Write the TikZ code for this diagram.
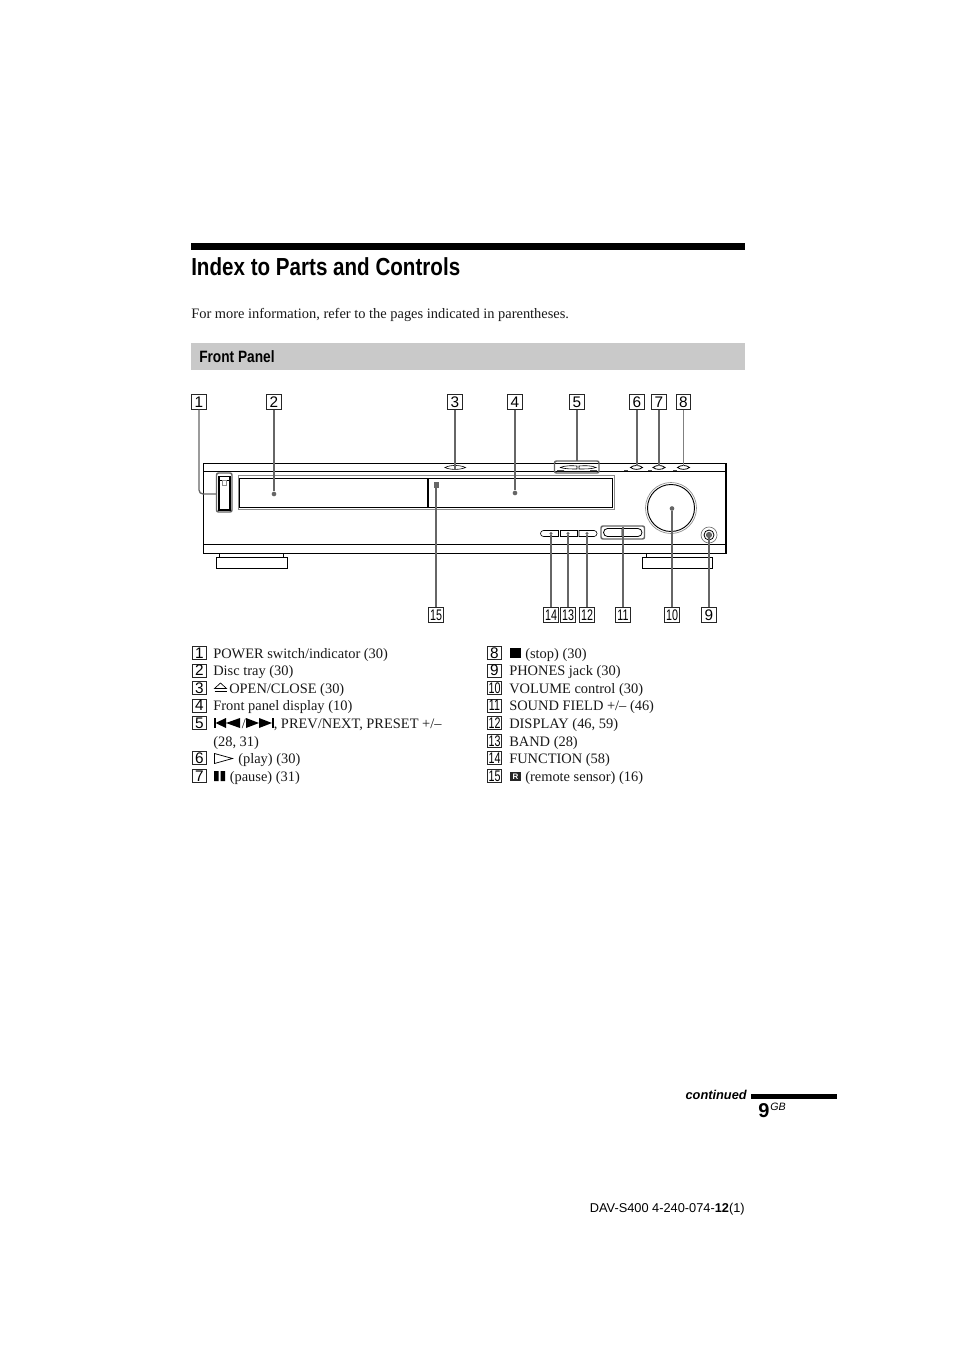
\documentclass[tikz,border=0pt]{standalone}
\usepackage{fontspec}
\setmainfont{Liberation Serif}
\setsansfont{Liberation Sans}
\newfontfamily\headfont[FakeStretch=0.835]{Liberation Sans Bold}
\definecolor{bandgray}{gray}{0.79}
\definecolor{conn}{gray}{0.40}
\newcommand{\tagnum}[1]{\ifnum#1>9 \scalebox{0.70}[1]{#1}\else #1\fi}
\tikzset{
  x=0.75pt,y=-0.75pt,
  tagbox/.style={draw=black!85,line width=0.6pt,minimum width=14.5*0.75pt,minimum height=14.5*0.75pt,inner sep=0pt,font=\sffamily\fontsize{11.5}{12}\selectfont,text=black},
  legbox/.style={draw=black!85,line width=0.6pt,minimum width=14*0.75pt,minimum height=13*0.75pt,inner sep=0pt,font=\sffamily\fontsize{11.5}{12}\selectfont,text=black},
  body/.style={anchor=base west,inner sep=0pt,font=\fontsize{10.82}{13}\selectfont,text=black!90},
  unit/.style={draw=black,line width=0.7pt},
  thinpart/.style={draw=black,line width=0.45pt},
  halo/.style={draw=conn,line width=1.1pt,rounded corners=1.5pt},
  halothin/.style={draw=black!45,line width=0.5pt},
  leader/.style={draw=conn,line width=0.95pt},
  leaderthin/.style={draw=black!50,line width=0.45pt},
  dot/.style={circle,fill=conn,inner sep=0pt,minimum size=3.5pt},
}
\begin{document}
\begin{tikzpicture}
\useasboundingbox (0,0) rectangle (954,1351);
\fill[white] (0,0) rectangle (954,1351);
% header
\fill[black] (191,243) rectangle (745,250);
\node[anchor=base west,inner sep=0pt,font=\headfont\fontsize{18.5}{20}\selectfont] (title) at (191,275.5) {Index to Parts and Controls};
\node[body] (intro) at (191,318.5) {For more information, refer to the pages indicated in parentheses.};
\fill[bandgray] (191,343) rectangle (745,370);
\node[anchor=base west,inner sep=0pt,font=\headfont\fontsize{12.3}{14}\selectfont] (fp) at (199,363) {Front Panel};
% unit body
\draw[unit] (203,463) rectangle (726,553.5);
\draw[unit] (203,471.5) -- (726,471.5);
\draw[unit] (203,544) -- (726,544);
\draw[line width=1pt] (726,463) -- (726,553.5);
% feet
\draw[unit] (216.5,557.5) rectangle (287,568);
\draw[thinpart] (219.5,553.5) -- (219.5,557.5) (283,553.5) -- (283,557.5);
\draw[thinpart,line width=0.6pt] (642.5,557.5) rectangle (712.5,568);
\draw[thinpart] (646,553.5) -- (646,557.5) (708,553.5) -- (708,557.5);
% power switch
\draw[halo] (216.5,473) rectangle (232,512);
\draw[unit,line width=0.8pt] (219,476.5) rectangle (230,510);
\draw[thinpart] (219,480) -- (230,480);
\draw[halothin] (222.5,480) rectangle (226.5,485);
% tray and display
\draw[halothin] (238,475) rectangle (614,509);
\draw[thinpart,line width=0.6pt] (239.5,478) rectangle (427,507);
\draw[thinpart,line width=0.6pt] (428.5,478) rectangle (612.5,507);
% sensor
\fill[black!60] (433.5,482) rectangle (438.5,488);
% top buttons
\draw[thinpart] (445,467.5) .. controls (450,464.8) and (460,464.8) .. (465.5,467.5) .. controls (460,470) and (450,470) .. cycle;
\draw[halo] (554.5,461) rectangle (599,473);
\draw[thinpart] (560,467.5) .. controls (565,465.5) and (572,465.5) .. (577,466) -- (577,469) .. controls (572,469) and (565,469) .. (560,467.5);
\draw[thinpart] (579,466) .. controls (585,465.5) and (592,465.5) .. (596,467.5) .. controls (592,469) and (585,469) .. (579,469) -- cycle;
\fill[black!70] (557,470) rectangle (564,471) (590,470) rectangle (597,471);
\foreach \cx/\mx in {636.5/625.5,659/650,683.5/675}{
  \draw[thinpart,line width=0.6pt] (\cx-6,467.5) .. controls (\cx-3,464.8) and (\cx+3,464.8) .. (\cx+6,467.5) .. controls (\cx+3,470) and (\cx-3,470) .. cycle;
  \fill[black!70] (\mx-2,470) rectangle (\mx+2,471);
}
% front buttons
\draw[thinpart] (558.5,530.5) {[rounded corners=2.2pt] -- (540.5,530.5) -- (540.5,536.5)} -- (558.5,536.5) -- cycle;
\draw[thinpart] (560.5,530.5) rectangle (577.5,536.5);
\draw[thinpart] (579,530.5) {[rounded corners=2.2pt] -- (597,530.5) -- (597,536.5)} -- (579,536.5) -- cycle;
\draw[halo] (601,526) rectangle (644.5,539);
\draw[thinpart,line width=0.6pt] (622,528.5) {[rounded corners=3pt] -- (603.5,528.5) -- (603.5,536.5)} -- (622,536.5) -- cycle;
\draw[thinpart,line width=0.6pt] (623.5,528.5) {[rounded corners=3pt] -- (642,528.5) -- (642,536.5)} -- (623.5,536.5) -- cycle;
% knob
\draw[black!45,line width=0.5pt] (671,508) circle[radius=25.5];
\draw[black,line width=0.7pt] (671,508) circle[radius=23.5];
% phones
\draw[black!55,line width=0.5pt] (709,535) circle[radius=8];
\draw[black,line width=0.6pt] (709,535) circle[radius=5];
\fill[black!70] (709,535) circle[radius=3];
% connector end points
\node[dot] (d2) at (274,494) {};
\node[dot] (d4) at (515,493) {};
\node[dot] (d10) at (672,508.5) {};
\node[dot] (d9) at (709,535) {};
\node[dot,minimum size=2.5pt] (d15) at (436,485) {};
\node[dot,minimum size=2.5pt] (d14) at (551,533.5) {};
\node[dot,minimum size=2.5pt] (d13) at (568,533.5) {};
\node[dot,minimum size=2.5pt] (d12) at (587,533.5) {};
\coordinate (e1) at (216.5,494);
\coordinate (e3) at (455,469);
\coordinate (e5) at (577,461);
\coordinate (e6) at (637,466);
\coordinate (e7) at (659,466);
\coordinate (e8) at (683.5,466);
\coordinate (e11) at (623,527);
% tags top
\foreach \n/\px in {1/199,2/274,3/455,4/515,5/577,6/637,7/659,8/683.5}{
  \node[tagbox] (t\n) at (\px,402) {\tagnum{\n}};
}
\foreach \n/\px in {15/436,14/551,13/568,12/587,11/623,10/672,9/709}{
  \node[tagbox] (t\n) at (\px,615) {\tagnum{\n}};
}
% leaders
\draw[leader,rounded corners=3pt] (t1.south) -- (t1.south |- e1) -- (e1);
\draw[leader] (t2) -- (d2);
\draw[leader] (t3) -- (e3);
\draw[leader] (t4) -- (d4);
\draw[leader] (t5) -- (e5);
\draw[leader] (t6) -- (e6);
\draw[leader] (t7) -- (e7);
\draw[leaderthin] (t8) -- (e8);
\draw[leader] (t9) -- (d9);
\draw[leader] (t10) -- (d10);
\draw[leader] (t11) -- (e11);
\draw[leader] (t12) -- (d12);
\draw[leader] (t13) -- (d13);
\draw[leader] (t14) -- (d14);
\draw[leader] (t15) -- (d15);
% legend boxes
\foreach \n/\py in {1/653,2/670.5,3/688,4/705.5,5/723,6/758,7/776}{
  \node[legbox] (l\n) at (199.5,\py) {\n};
}
\foreach \n/\py in {8/653,9/670.5,10/688,11/705.5,12/723,13/741,14/758,15/776}{
  \node[legbox] (l\n) at (494.5,\py) {\tagnum{\n}};
}
\node[body] (x1) at (213,658) {POWER switch/indicator (30)};
\node[body] (x2) at (213,675.5) {Disc tray (30)};
\node[body] (x3) at (229,693) {OPEN/CLOSE (30)};
\node[body] (x4) at (213,710.5) {Front panel display (10)};
\node[body] (x5a) at (273.5,728) {, PREV/NEXT, PRESET +/–};
\node[body] (x5s) at (241.5,728) {/};
\node[body] (x5b) at (213,746) {(28, 31)};
\node[body] (x6) at (238,763) {(play) (30)};
\node[body] (x7) at (229.5,781) {(pause) (31)};
\node[body] (x8) at (525,658) {(stop) (30)};
\node[body] (x9) at (509,675.5) {PHONES jack (30)};
\node[body] (x10) at (509,693) {VOLUME control (30)};
\node[body] (x11) at (509,710.5) {SOUND FIELD +/– (46)};
\node[body] (x12) at (509,728) {DISPLAY (46, 59)};
\node[body] (x13) at (509,746) {BAND (28)};
\node[body] (x14) at (509,763) {FUNCTION (58)};
\node[body] (x15) at (525,781) {(remote sensor) (16)};
% legend glyphs
\draw[black,line width=0.5pt] (214.5,688.5) -- (220.5,683) -- (226.5,688.5) -- cycle;
\draw[black,line width=0.5pt] (214.5,691) -- (226.5,691);
\fill[black] (214,718) rectangle (215.5,728);
\fill[black] (215.5,723) -- (226,718) -- (226,728) -- cycle (226,723) -- (240,718) -- (240,728) -- cycle;
\fill[black] (272,718) rectangle (273.5,728);
\fill[black] (272,723) -- (259,718) -- (259,728) -- cycle (259,723) -- (246,718) -- (246,728) -- cycle;
\draw[black,line width=0.55pt] (214.5,753.5) -- (232.5,758.5) -- (214.5,763.5) -- cycle;
\fill[black] (214,771) rectangle (218.5,781) (220.5,771) rectangle (225,781);
\fill[black] (510,648) rectangle (521,658);
\fill[black!85] (510,772) rectangle (521,781);
\node[inner sep=0pt,text=white,font=\sffamily\bfseries\fontsize{6}{6}\selectfont] (rmark) at (515.5,776.5) {R};
% footer
\node[anchor=base east,inner sep=0pt,font=\sffamily\bfseries\itshape\fontsize{9.6}{11}\selectfont] (cont) at (747,1099) {continued};
\fill[black] (751,1094) rectangle (837,1098.5);
\node[anchor=base west,inner sep=0pt,font=\sffamily\bfseries\fontsize{15}{16}\selectfont] (pg) at (758,1117) {9};
\node[anchor=base west,inner sep=0pt,font=\sffamily\itshape\fontsize{8}{9}\selectfont] (gb) at (770,1110.5) {GB};
\node[anchor=base east,inner sep=0pt,font=\sffamily\fontsize{9.6}{11}\selectfont] (foot) at (745,1212) {DAV-S400 4-240-074-\textbf{12}(1)};
\end{tikzpicture}
\end{document}
